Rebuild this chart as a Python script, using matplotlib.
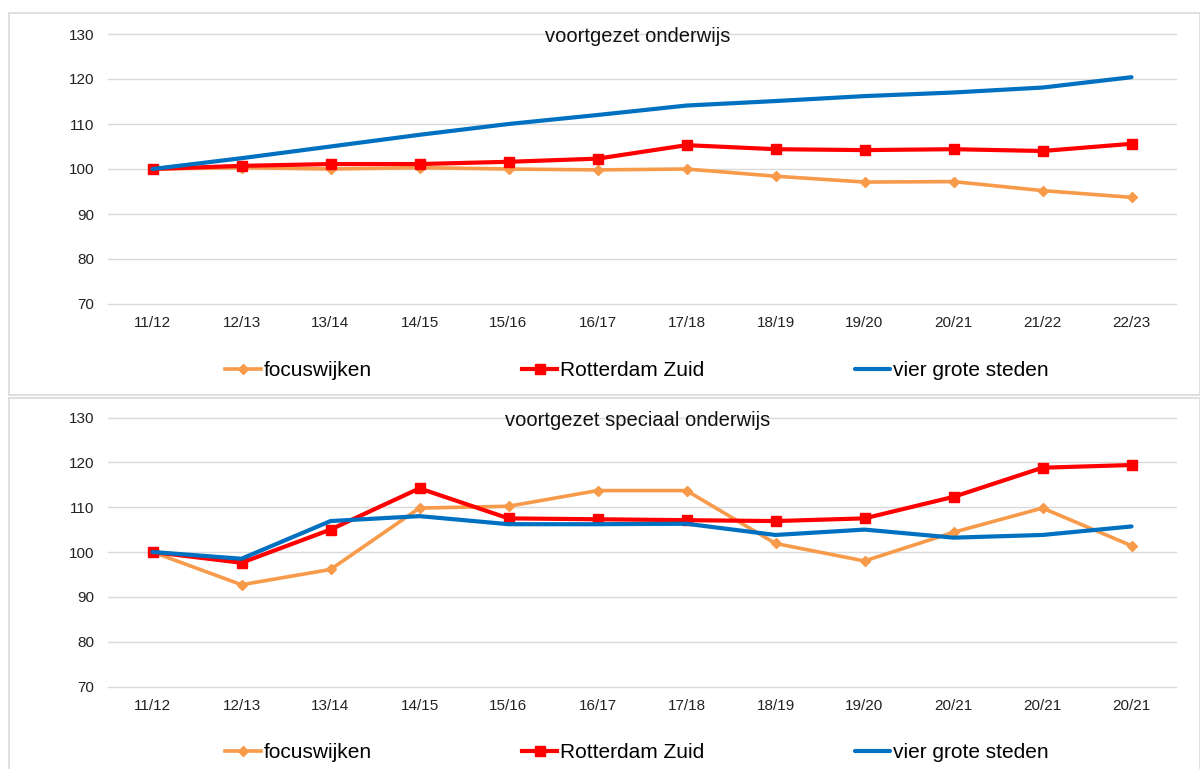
import numpy as np
import matplotlib
matplotlib.use("Agg")
import matplotlib.pyplot as plt
from matplotlib.patches import Rectangle

plt.rcParams["font.family"] = ["Liberation Sans", "DejaVu Sans"]

# ── Data ──────────────────────────────────────────────────────
labels_vo  = ["11/12", "12/13", "13/14", "14/15", "15/16", "16/17",
              "17/18", "18/19", "19/20", "20/21", "21/22", "22/23"]
labels_vso = ["11/12", "12/13", "13/14", "14/15", "15/16", "16/17",
              "17/18", "18/19", "19/20", "20/21", "20/21", "20/21"]

vo_focus = [100, 100.3, 100.0, 100.3, 100.0, 99.8, 100.0, 98.4, 97.1, 97.2, 95.2, 93.7]
vo_zuid  = [100, 100.7, 101.1, 101.1, 101.6, 102.3, 105.3, 104.4, 104.2, 104.4, 104.0, 105.6]
vo_g4    = [100, 102.4, 105.0, 107.6, 110.0, 112.0, 114.1, 115.1, 116.2, 117.0, 118.1, 120.4]

vso_focus = [100, 92.7, 96.1, 109.8, 110.2, 113.7, 113.7, 101.9, 98.0, 104.4, 109.8, 101.4]
vso_zuid  = [100, 97.6, 105.0, 114.2, 107.5, 107.3, 107.1, 106.9, 107.5, 112.3, 118.8, 119.4]
vso_g4    = [100, 98.5, 106.9, 108.0, 106.2, 106.2, 106.3, 103.8, 105.0, 103.2, 103.8, 105.7]

series_names = ["focuswijken", "Rotterdam Zuid", "vier grote steden"]
colors = {"focus": "#F79A4A", "zuid": "#FF0000", "g4": "#0070C0"}

W, H = 1200, 769
fig = plt.figure(figsize=(W / 100, H / 100), dpi=100)

def fx(px):
    return px / W

def fy(py):
    return 1 - py / H

# panel borders
for top, bot in [(13, 395), (398, 775)]:
    fig.patches.append(Rectangle((fx(9), fy(bot)), fx(1200) - fx(9), fy(top) - fy(bot),
                                 transform=fig.transFigure, fill=False,
                                 edgecolor="#D9D9D9", lw=1.2))

panels = [
    (34, 304, "voortgezet onderwijs", labels_vo, vo_focus, vo_zuid, vo_g4, 371),
    (417.5, 686.5, "voortgezet speciaal onderwijs", labels_vso, vso_focus, vso_zuid, vso_g4, 753),
]

for top, bot, title, labels, focus, zuid, g4, leg_y in panels:
    ax = fig.add_axes([fx(108), fy(bot), fx(1176) - fx(108), fy(top) - fy(bot)])
    x = np.arange(len(labels))
    ax.plot(x, focus, color=colors["focus"], lw=2.6, marker="D", ms=5,
            label=series_names[0], zorder=3)
    ax.plot(x, zuid, color=colors["zuid"], lw=3, marker="s", ms=7.5,
            label=series_names[1], zorder=4)
    ax.plot(x, g4, color=colors["g4"], lw=3, label=series_names[2], zorder=5,
            solid_capstyle="round")

    ax.set_xlim(-0.5, len(labels) - 0.5)
    ax.set_ylim(70, 130)
    ax.set_yticks(range(70, 131, 10))
    ax.set_xticks(x)
    ax.set_xticklabels(labels)
    ax.tick_params(length=0, labelsize=11, colors="#222222")
    ax.tick_params(axis="x", pad=9)
    ax.tick_params(axis="y", pad=10)
    ax.grid(axis="y", color="#D9D9D9", lw=1)
    for gl in ax.get_ygridlines():
        gl.set_clip_on(False)
    ax.set_axisbelow(True)
    for s in ax.spines.values():
        s.set_visible(False)

    fig.text(fx(638), fy(top + 3), title, ha="center", va="center",
             fontsize=14.5, color="#111111")

    fig.legend(handles=ax.get_lines(), loc="center",
               bbox_to_anchor=(fx(637), fy(leg_y)), ncol=3, frameon=False,
               fontsize=15, handlelength=1.7, handletextpad=0.15,
               columnspacing=7.2)

fig.savefig("out.png", dpi=100)
